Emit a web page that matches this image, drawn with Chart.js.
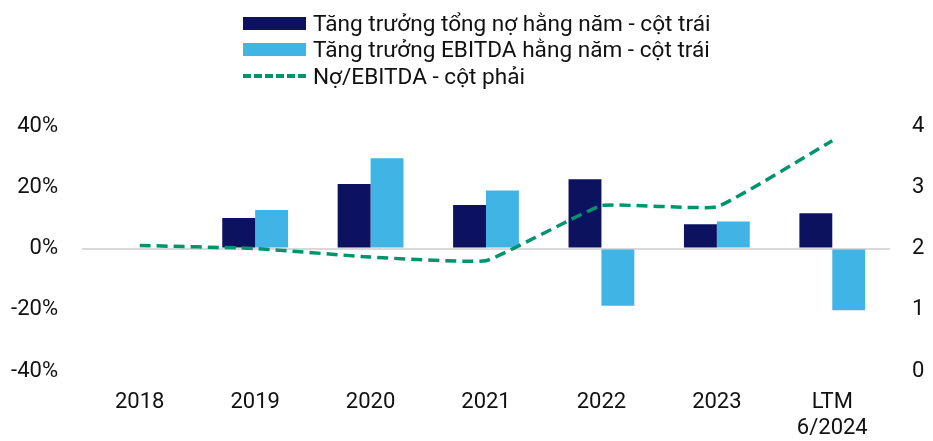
<!DOCTYPE html>
<html>
<head>
<meta charset="utf-8">
<script src="https://cdn.jsdelivr.net/npm/chart.js@4"></script>
<style>
  html, body { margin: 0; padding: 0; background: #fff; }
  #wrap { position: relative; width: 933px; height: 441px; }
  #c { display: block; }
  #legend { position: absolute; left: 243px; top: 10px; font-family: Roboto, sans-serif; font-size: 22.6px; color: #111; }
  .row { display: flex; align-items: center; height: 26.5px; }
  .sw { width: 63px; height: 13px; margin-right: 7px; }
  .dash { width: 63px; height: 0; border-top: 4px dashed #00946e; margin-right: 7px; }
</style>
</head>
<body>
<div id="wrap">
  <canvas id="c" width="933" height="441"></canvas>
  <div id="legend">
    <div class="row"><span class="sw" style="background:#0c1260"></span>Tăng trưởng tổng nợ hằng năm - cột trái</div>
    <div class="row"><span class="sw" style="background:#41b4e6"></span>Tăng trưởng EBITDA hằng năm - cột trái</div>
    <div class="row"><span class="dash"></span>Nợ/EBITDA - cột phải</div>
  </div>
</div>
<script>
// dữ liệu
var categories = ["2018", "2019", "2020", "2021", "2022", "2023", ["LTM", "6/2024"]];
var debtGrowth = [null, 0.100, 0.211, 0.142, 0.226, 0.079, 0.115];
var ebitdaGrowth = [null, 0.126, 0.295, 0.189, -0.187, 0.088, -0.202];
var debtToEbitda = [2.05, 2.00, 1.86, 1.80, 2.70, 2.68, 3.76];
var leftTicks = [-0.4, -0.2, 0, 0.2, 0.4];
var rightTicks = [0, 1, 2, 3, 4];

var FONT = { family: "Roboto, sans-serif", size: 22 };

var ctx = document.getElementById("c").getContext("2d");
new Chart(ctx, {
  type: "bar",
  data: {
    labels: categories,
    datasets: [
      {
        type: "line",
        label: "Nợ/EBITDA - cột phải",
        data: debtToEbitda,
        yAxisID: "y1",
        borderColor: "#00946e",
        borderWidth: 3.5,
        borderDash: [11, 6],
        pointRadius: 0,
        fill: false,
        tension: 0.1,
        order: 0
      },
      {
        label: "Tăng trưởng tổng nợ hằng năm - cột trái",
        data: debtGrowth,
        yAxisID: "y",
        backgroundColor: "#0c1260",
        categoryPercentage: 0.57,
        barPercentage: 1.0,
        order: 1
      },
      {
        label: "Tăng trưởng EBITDA hằng năm - cột trái",
        data: ebitdaGrowth,
        yAxisID: "y",
        backgroundColor: "#41b4e6",
        categoryPercentage: 0.57,
        barPercentage: 1.0,
        order: 2
      }
    ]
  },
  options: {
    responsive: false,
    animation: false,
    layout: { padding: { top: 126, bottom: 0, left: 0, right: 0 } },
    plugins: { legend: { display: false }, tooltip: { enabled: false } },
    scales: {
      x: {
        grid: { display: false, drawTicks: false },
        border: { display: false },
        afterFit: function(s) { s.height = 70; },
        ticks: { color: "#111", font: FONT, padding: 18, maxRotation: 0 }
      },
      y: {
        position: "left",
        min: -0.4, max: 0.4,
        afterBuildTicks: function(s) { s.ticks = leftTicks.map(function(v) { return { value: v }; }); },
        afterFit: function(s) { s.width = 82; },
        border: { display: false },
        grid: {
          drawTicks: false,
          lineWidth: 2,
          color: function(c) { return c.tick && c.tick.value === 0 ? "#d9d9d9" : "rgba(0,0,0,0)"; }
        },
        ticks: {
          color: "#111", font: FONT, padding: 24,
          callback: function(v) { return Math.round(v * 100) + "%"; }
        }
      },
      y1: {
        position: "right",
        min: 0, max: 4,
        afterBuildTicks: function(s) { s.ticks = rightTicks.map(function(v) { return { value: v }; }); },
        afterFit: function(s) { s.width = 43; },
        border: { display: false },
        grid: { display: false, drawTicks: false },
        ticks: { color: "#111", font: FONT, padding: 22 }
      }
    }
  }
});
</script>
</body>
</html>
